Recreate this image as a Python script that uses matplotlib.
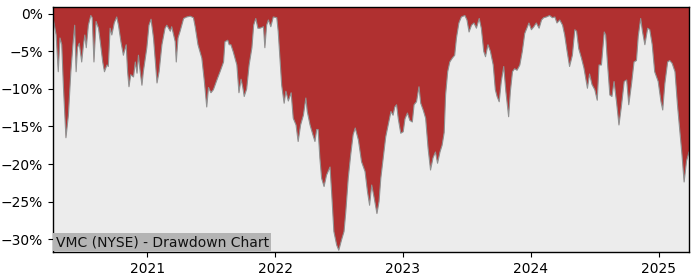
import matplotlib
matplotlib.use("Agg")
import matplotlib.pyplot as plt
import matplotlib.dates as mdates
from matplotlib.ticker import PercentFormatter
import pandas as pd

title_text = "VMC (NYSE) - Drawdown Chart"

dates = [
    "2020-04-07", "2020-04-10", "2020-04-16", "2020-04-22", "2020-04-27", "2020-05-02", "2020-05-07",
    "2020-05-14", "2020-05-21", "2020-05-28", "2020-06-03", "2020-06-08", "2020-06-12", "2020-06-16",
    "2020-06-21", "2020-06-28", "2020-07-03", "2020-07-07", "2020-07-11", "2020-07-17", "2020-07-24",
    "2020-07-28", "2020-08-02", "2020-08-08", "2020-08-15", "2020-08-20", "2020-08-27", "2020-09-01",
    "2020-09-08", "2020-09-12", "2020-09-17", "2020-09-22", "2020-09-29", "2020-10-06", "2020-10-11",
    "2020-10-18", "2020-10-25", "2020-11-02", "2020-11-06", "2020-11-10", "2020-11-15", "2020-11-23",
    "2020-11-28", "2020-12-03", "2020-12-07", "2020-12-12", "2020-12-17", "2020-12-21", "2020-12-31",
    "2021-01-06", "2021-01-12", "2021-01-19", "2021-01-29", "2021-02-04", "2021-02-12", "2021-02-21",
    "2021-02-26", "2021-03-08", "2021-03-12", "2021-03-22", "2021-03-25", "2021-03-30", "2021-04-05",
    "2021-04-15", "2021-04-24", "2021-05-04", "2021-05-13", "2021-05-18", "2021-05-26", "2021-06-06",
    "2021-06-13", "2021-06-20", "2021-06-25", "2021-07-02", "2021-07-09", "2021-07-19", "2021-07-28",
    "2021-08-07", "2021-08-11", "2021-08-19", "2021-08-23", "2021-08-28", "2021-09-04", "2021-09-14",
    "2021-09-20", "2021-09-26", "2021-10-01", "2021-10-05", "2021-10-12", "2021-10-19", "2021-10-27",
    "2021-11-01", "2021-11-07", "2021-11-13", "2021-11-19", "2021-11-29", "2021-12-03", "2021-12-08",
    "2021-12-13", "2021-12-20", "2021-12-27",
    "2022-01-06", "2022-01-10", "2022-01-15", "2022-01-20", "2022-01-27", "2022-02-01", "2022-02-08",
    "2022-02-16", "2022-02-22", "2022-03-02", "2022-03-08", "2022-03-15", "2022-03-23", "2022-03-30",
    "2022-04-03", "2022-04-11", "2022-04-19", "2022-04-25", "2022-04-30", "2022-05-04", "2022-05-09",
    "2022-05-14", "2022-05-21", "2022-05-28", "2022-06-07", "2022-06-12", "2022-06-18", "2022-06-26",
    "2022-07-02", "2022-07-10", "2022-07-17", "2022-07-22", "2022-07-29", "2022-08-05", "2022-08-12",
    "2022-08-18", "2022-08-27", "2022-09-05", "2022-09-15", "2022-09-22", "2022-09-28", "2022-10-04",
    "2022-10-11", "2022-10-19", "2022-10-25", "2022-10-30", "2022-11-06", "2022-11-13", "2022-11-20",
    "2022-11-28", "2022-12-04", "2022-12-09", "2022-12-14", "2022-12-19", "2022-12-26",
    "2023-01-02", "2023-01-07", "2023-01-14", "2023-01-21", "2023-01-28", "2023-02-02", "2023-02-09",
    "2023-02-16", "2023-02-21", "2023-02-28", "2023-03-07", "2023-03-14", "2023-03-21", "2023-03-28",
    "2023-04-04", "2023-04-10", "2023-04-17", "2023-04-23", "2023-04-29", "2023-05-03", "2023-05-09",
    "2023-05-15", "2023-05-22", "2023-05-29", "2023-06-03", "2023-06-10", "2023-06-17", "2023-06-27",
    "2023-07-03", "2023-07-09", "2023-07-16", "2023-07-23", "2023-07-30", "2023-08-07", "2023-08-13",
    "2023-08-20", "2023-08-25", "2023-09-01", "2023-09-08", "2023-09-16", "2023-09-22", "2023-09-27",
    "2023-10-03", "2023-10-09", "2023-10-16", "2023-10-22", "2023-10-27", "2023-10-30", "2023-11-04",
    "2023-11-10", "2023-11-16", "2023-11-23", "2023-12-01", "2023-12-08", "2023-12-15", "2023-12-21",
    "2023-12-27",
    "2024-01-03", "2024-01-10", "2024-01-17", "2024-01-25", "2024-02-01", "2024-02-07", "2024-02-15",
    "2024-02-24", "2024-03-03", "2024-03-10", "2024-03-16", "2024-03-24", "2024-04-01", "2024-04-07",
    "2024-04-14", "2024-04-21", "2024-04-29", "2024-05-06", "2024-05-11", "2024-05-17", "2024-05-25",
    "2024-06-01", "2024-06-11", "2024-06-17", "2024-06-24", "2024-07-02", "2024-07-09", "2024-07-14",
    "2024-07-21", "2024-07-29", "2024-08-02", "2024-08-07", "2024-08-14", "2024-08-20", "2024-08-26",
    "2024-09-02", "2024-09-09", "2024-09-16", "2024-09-24", "2024-10-01", "2024-10-07", "2024-10-15",
    "2024-10-22", "2024-10-29", "2024-11-03", "2024-11-10", "2024-11-15", "2024-11-22", "2024-11-30",
    "2024-12-06", "2024-12-13", "2024-12-20", "2024-12-30",
    "2025-01-07", "2025-01-12", "2025-01-18", "2025-01-26", "2025-02-01", "2025-02-08", "2025-02-16",
    "2025-02-23", "2025-03-02", "2025-03-08", "2025-03-14", "2025-03-21", "2025-03-28",
]

drawdown_pct = [
    -0.5, -1.2, -2.8, -7.7, -3.2, -4.1, -9.9,
    -16.5, -13.5, -7.7, -4.1, -1.5, -7.7, -4.5,
    -3.9, -6.4, -4.1, -2.8, -4.5, -1.5, -0.2,
    -0.5, -6.4, -1.0, -1.9, -3.7, -6.4, -7.7,
    -6.8, -7.0, -1.9, -2.8, -1.2, -0.4, -1.5,
    -3.7, -5.5, -4.1, -7.7, -9.7, -8.1, -8.4,
    -6.4, -7.9, -5.5, -7.7, -9.5, -7.7, -4.5,
    -1.5, -0.7, -3.2, -9.2, -7.7, -4.1, -1.9,
    -1.5, -2.3, -1.7, -3.7, -6.4, -3.2, -2.3,
    -0.6, -0.4, -0.3, -0.5, -1.7, -4.1, -5.9,
    -8.9, -12.4, -9.8, -10.5, -10.1, -8.8, -7.7,
    -6.4, -3.7, -3.5, -4.1, -4.1, -5.1, -6.8,
    -10.5, -8.7, -9.8, -11.0, -10.0, -6.8, -4.5,
    -1.5, -0.6, -1.9, -1.9, -1.7, -4.5, -1.5,
    -0.8, -1.7, -0.4,
    -0.5, -2.3, -5.9, -9.5, -11.9, -10.3, -11.6,
    -10.5, -13.9, -14.8, -17.0, -14.8, -13.5, -11.2,
    -13.0, -14.8, -16.1, -17.0, -15.4, -15.4, -19.2,
    -21.9, -23.0, -21.5, -20.4, -24.1, -29.0, -30.8,
    -31.5, -30.1, -29.0, -26.4, -21.9, -18.8, -16.1,
    -15.2, -16.8, -19.7, -21.0, -23.7, -25.5, -22.8,
    -24.5, -26.6, -25.0, -21.9, -19.2, -16.4, -14.8,
    -13.0, -13.5, -12.4, -12.1, -14.0, -15.9,
    -15.7, -14.0, -13.2, -14.2, -14.4, -12.1, -11.7,
    -9.7, -11.9, -12.8, -13.9, -17.9, -20.8, -19.2,
    -18.4, -19.9, -18.4, -17.5, -15.8, -10.8, -7.7,
    -6.4, -5.9, -5.5, -3.2, -1.2, -0.4, -0.2,
    -0.8, -2.4, -1.5, -1.2, -1.9, -0.6, -1.9,
    -5.0, -5.7, -4.1, -5.0, -6.8, -10.1, -11.0,
    -11.7, -9.0, -7.0, -10.3, -12.4, -13.7, -10.3,
    -7.7, -7.3, -7.5, -6.8, -5.0, -2.6, -1.9,
    -1.2,
    -2.1, -1.7, -1.2, -1.9, -0.8, -0.5, -0.4,
    -0.2, -0.5, -0.4, -1.2, -0.8, -1.5, -2.8,
    -5.0, -7.0, -5.5, -2.1, -2.3, -4.6, -5.9,
    -7.2, -9.9, -8.0, -9.4, -10.1, -11.5, -6.8,
    -6.8, -2.4, -2.8, -6.4, -10.8, -11.0, -9.0,
    -11.7, -14.8, -12.3, -9.0, -8.8, -12.1, -9.3,
    -6.4, -6.2, -3.0, -0.6, -2.3, -4.1, -1.9,
    -2.1, -4.1, -7.7, -9.0,
    -11.7, -12.8, -9.3, -6.4, -6.2, -6.6, -7.7,
    -12.1, -15.7, -18.8, -22.4, -19.6, -18.4,
]

y_ticks = [0, -5, -10, -15, -20, -25, -30]
x_tick_years = [2021, 2022, 2023, 2024, 2025]
y_top = 0.93
y_bottom = -31.73

x = pd.to_datetime(dates)

fig = plt.figure(figsize=(7.0, 2.8), dpi=100)
ax = fig.add_axes([0.0757, 0.1, 0.9086, 0.875])
ax.set_facecolor("#ececec")

ax.fill_between(x, drawdown_pct, y_top + 5, color="#b03030", linewidth=0)
ax.plot(x, drawdown_pct, color="#909090", linewidth=0.8)

ax.set_xlim(x[0], x[-1])
ax.set_ylim(y_bottom, y_top)
ax.set_yticks(y_ticks)
ax.yaxis.set_major_formatter(PercentFormatter(xmax=100, decimals=0))
ax.set_xticks([pd.Timestamp(f"{yr}-01-01") for yr in x_tick_years])
ax.xaxis.set_major_formatter(mdates.DateFormatter("%Y"))

for s in ax.spines.values():
    s.set_color("black")
    s.set_linewidth(1.0)

ax.text(0.004, 0.012, title_text, transform=ax.transAxes, fontsize=10,
        ha="left", va="bottom", color="#111111",
        bbox=dict(facecolor="#b4b4b4", edgecolor="none", pad=1.5))

fig.savefig("out.png", dpi=100)
